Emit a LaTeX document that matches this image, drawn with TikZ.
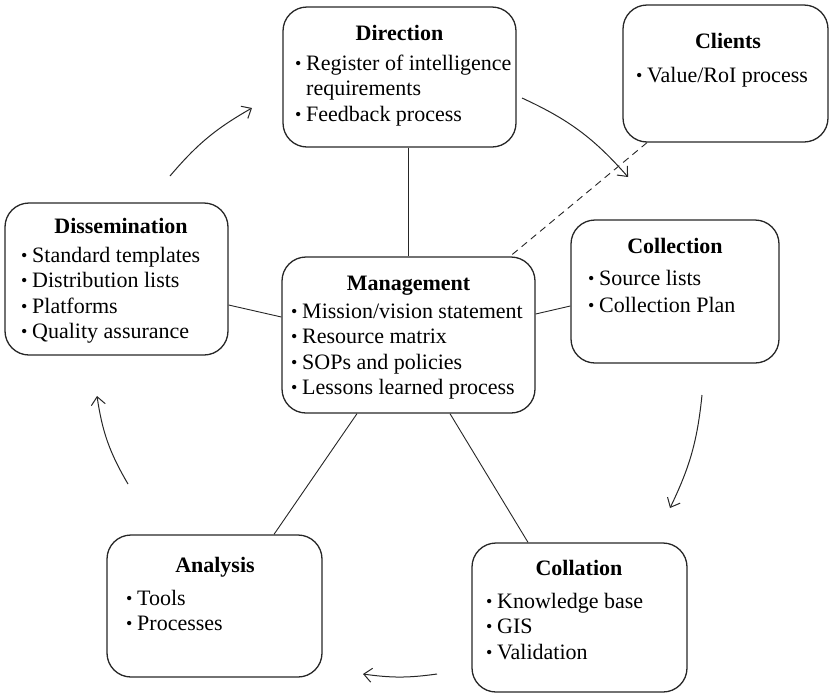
\documentclass[tikz,border=0pt]{standalone}
\usepackage{fontspec}
\setmainfont{Liberation Serif}
\usetikzlibrary{arrows.meta,calc}

% bullet with a fixed-width slot so wrapped lines align with the text
\newcommand\bl{\makebox[11pt][l]{\raisebox{0.6pt}{\fontsize{18}{18}\selectfont\textbullet}}}
\newcommand\itemlist[1]{\begin{tabular}[t]{@{}l@{}}#1\end{tabular}}

\begin{document}
\begin{tikzpicture}[x=1pt,y=-1pt,
  box/.style={draw=black!85,line width=1.3pt,rounded corners=24pt,inner sep=0pt},
  ttl/.style={inner sep=0pt,anchor=base,font=\fontsize{22}{25.5}\selectfont\bfseries},
  lst/.style={inner sep=0pt,anchor=base west,font=\fontsize{22}{25.5}\selectfont},
  link/.style={draw=black!85,line width=0.9pt},
  dashlink/.style={link,dash pattern=on 7pt off 5pt},
  cycle/.style={draw=black!85,line width=1pt,bend left=#1,-{Straight Barb[length=8pt,width=14pt,line width=1pt]}}
]
\useasboundingbox (0,0) rectangle (830,694);

% boxes
\node[box,minimum width=233pt,minimum height=140pt] (dir) at (399.5,77) {};
\node[box,minimum width=205pt,minimum height=137pt] (cli) at (725.5,73.5) {};
\node[box,minimum width=223pt,minimum height=152pt] (dis) at (116.5,279) {};
\node[box,minimum width=253pt,minimum height=156pt] (mgt) at (408.5,335) {};
\node[box,minimum width=208pt,minimum height=143pt] (col) at (675,291.5) {};
\node[box,minimum width=215pt,minimum height=149pt] (cla) at (579.5,617.5) {};
\node[box,minimum width=215pt,minimum height=142pt] (ana) at (214.5,606) {};

% titles
\node[ttl] (dirT) at (399.5,40) {Direction};
\node[ttl] (cliT) at (728,48) {Clients};
\node[ttl] (disT) at (121,233) {Dissemination};
\node[ttl] (mgtT) at (408.5,290) {Management};
\node[ttl] (colT) at (675,253) {Collection};
\node[ttl] (claT) at (579,575) {Collation};
\node[ttl] (anaT) at (215,572) {Analysis};

% item lists
\node[lst] (dirL) at (295,70) {\itemlist{\bl Register of intelligence\\ \hphantom{\bl}requirements\\ \bl Feedback process}};
\node[lst] (cliL) at (636,82) {\itemlist{\bl Value/RoI process}};
\node[lst] (disL) at (21,262) {\itemlist{\bl Standard templates\\ \bl Distribution lists\\ \bl Platforms\\ \bl Quality assurance}};
\node[lst] (mgtL) at (291,318) {\itemlist{\bl Mission/vision statement\\ \bl Resource matrix\\ \bl SOPs and policies\\ \bl Lessons learned process}};
\node[lst] (colL) at (588,285) {\itemlist{\bl Source lists\\[1.5pt] \bl Collection Plan}};
\node[lst] (claL) at (486,608) {\itemlist{\bl Knowledge base\\ \bl GIS\\ \bl Validation}};
\node[lst] (anaL) at (126,605) {\itemlist{\bl Tools\\ \bl Processes}};

% spokes from the management hub
\draw[link] (dir.south -| mgt.north) -- (mgt.north);
\draw[link] ($(dis.east)+(0,26)$) -- ($(mgt.west)+(0,-18)$);
\draw[link] ($(mgt.east)+(0,-21)$) -- ($(col.west)+(0,14.5)$);
\draw[link] ($(mgt.south)+(-51.5,0)$) -- ($(ana.north)+(59.5,0)$);
\draw[link] ($(mgt.south)+(41.5,0)$) -- ($(cla.north)+(-51.5,0)$);
\draw[dashlink] ($(cli.south)+(-78.5,0)$) -- ($(mgt.north)+(101.5,0)$);

% cycle arrows
\coordinate (a1s) at (170,176); \coordinate (a1e) at (252,108);
\coordinate (a2s) at (522,98);  \coordinate (a2e) at (628,177);
\coordinate (a3s) at (702,395); \coordinate (a3e) at (670,508);
\coordinate (a4s) at (437,674); \coordinate (a4e) at (363,674);
\coordinate (a5s) at (128,484); \coordinate (a5e) at (97,396);
\draw[cycle=10] (a1s) to (a1e);
\draw[cycle=12] (a2s) to (a2e);
\draw[cycle=10] (a3s) to (a3e);
\draw[cycle=8]  (a4s) to (a4e);
\draw[cycle=11] (a5s) to (a5e);
\end{tikzpicture}
\end{document}
